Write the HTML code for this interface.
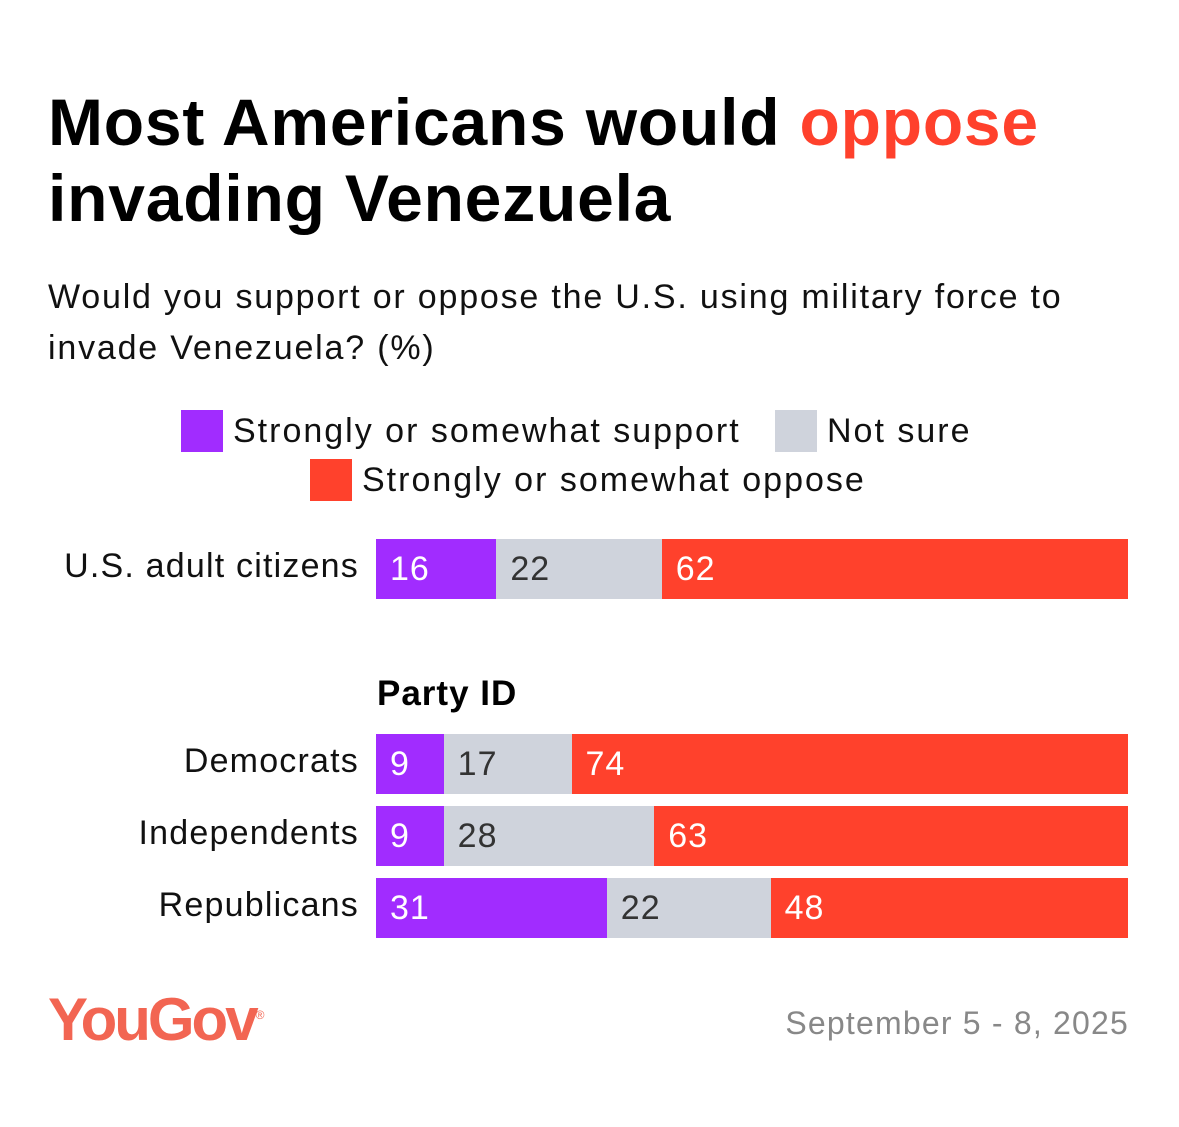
<!DOCTYPE html>
<html><head><meta charset="utf-8">
<style>
body{margin:0;width:1179px;height:1127px;background:#fff;font-family:"Liberation Sans",sans-serif;position:relative;overflow:hidden}
.abs{position:absolute;white-space:nowrap}
#title{left:48px;top:84px;font-size:66px;font-weight:bold;line-height:76px;letter-spacing:0.8px;color:#000}
#sub{left:48px;top:272px;font-size:34px;line-height:51px;color:#111;letter-spacing:1.8px}
.leg{font-size:34px;color:#111;display:flex;align-items:center;letter-spacing:2px}
.sw{width:42px;height:42px;margin-right:10px}
.lbl{font-size:34px;color:#111;text-align:right;right:820px;letter-spacing:1.2px}
.seg{position:absolute;height:60px;color:#fff;font-size:34px;line-height:60px;box-sizing:border-box;padding-left:14px;letter-spacing:1px}
</style></head><body>
<div class="abs" id="title">Most Americans would <span style="color:#ff412c">oppose</span><br>invading Venezuela</div>
<div class="abs" id="sub">Would you support or oppose the U.S. using military force to<br>invade Venezuela? (%)</div>
<div class="abs leg" style="left:181px;top:410px"><div class="sw" style="background:#a12cff"></div>Strongly or somewhat support</div>
<div class="abs leg" style="left:775px;top:410px"><div class="sw" style="background:#cfd3dc"></div>Not sure</div>
<div class="abs leg" style="left:310px;top:459px"><div class="sw" style="background:#ff412c"></div>Strongly or somewhat oppose</div>
<div class="abs" style="left:377px;top:674px;font-size:35px;font-weight:bold;letter-spacing:1px">Party ID</div>
<div id="chart"></div>
<div class="abs" style="left:48px;top:985px;font-size:60px;font-weight:bold;color:#f26552;letter-spacing:-3px">YouGov<sup style="font-size:12px;letter-spacing:0;font-weight:normal">®</sup></div>
<div class="abs" style="right:50px;top:1005px;font-size:32px;color:#888;letter-spacing:1.2px">September 5 - 8, 2025</div>
<script>
const categories=["U.S. adult citizens","Democrats","Independents","Republicans"];
const support=[16,9,9,31];
const notSure=[22,17,28,22];
const oppose=[62,74,63,48];
const rowTops=[539,734,806,878];
const colors=["#a12cff","#cfd3dc","#ff412c"];
const x0=376,W=752;
const chart=document.getElementById('chart');
categories.forEach((c,i)=>{
  const l=document.createElement('div');
  l.className='abs lbl';l.style.top=(rowTops[i]+8)+'px';l.textContent=c;
  
  
  chart.appendChild(l);
  const vals=[support[i],notSure[i],oppose[i]];
  const tot=vals.reduce((a,b)=>a+b,0);
  let x=x0;
  vals.forEach((v,j)=>{
    const w=v/tot*W;
    const s=document.createElement('div');
    s.className='seg';
    s.style.left=x+'px';s.style.top=rowTops[i]+'px';s.style.width=w+'px';
    s.style.background=colors[j];
    if(j==1)s.style.color='#333';
    s.textContent=v;
    
    
    chart.appendChild(s);
    x+=w;
  });
});
</script>
</body></html>
